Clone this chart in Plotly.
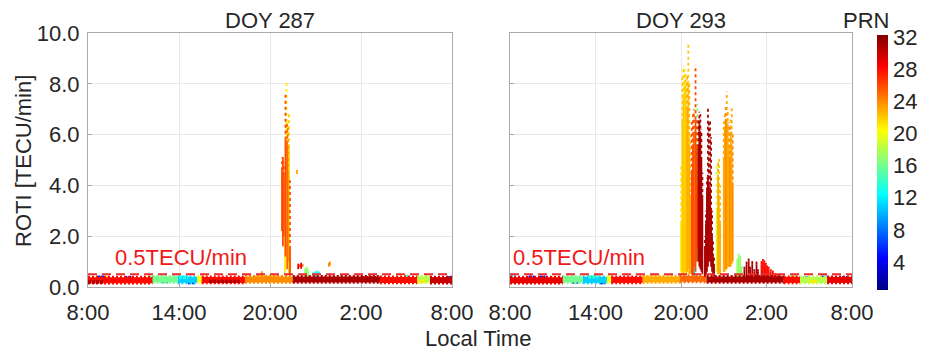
import plotly.graph_objects as go
from plotly.colors import sample_colorscale

W, H = 935, 354
FONT = "Liberation Sans, Arial, Helvetica, sans-serif"
TXT = "rgb(38,38,38)"

# ---------------------------------------------------------------- data
# x: local time in hours counted from 8:00 (8 .. 32 spans one day)
x_tickvals = [8, 14, 20, 26, 32]
x_ticktext = ["8:00", "14:00", "20:00", "2:00", "8:00"]
y_tickvals = [0, 2, 4, 6, 8, 10]
y_ticktext = ["0.0", "2.0", "4.0", "6.0", "8.0", "10.0"]
prn_ticks = [4, 8, 12, 16, 20, 24, 28, 32]
threshold = 0.5
panel_titles = ["DOY 287", "DOY 293"]

# quiet-time ROTI band of every satellite pass: start, end, PRN, typical ROTI
band287_start = [8.0, 12.0, 13.9, 15.2, 15.5, 18.35, 21.5, 27.25, 29.7, 30.55]
band287_end   = [12.25, 13.9, 15.2, 15.5, 18.35, 21.5, 27.25, 29.7, 30.55, 32.0]
band287_prn   = [28, 16, 11, 20, 28, 24, 31, 28, 18, 30]
band287_roti  = [0.27, 0.30, 0.28, 0.30, 0.28, 0.30, 0.30, 0.28, 0.30, 0.27]

# shorter low-level fragments from other satellites
frag287_start = [8.0, 8.6, 9.1, 10.4, 12.8, 14.0, 14.6, 16.0, 19.0, 22.9, 26.0, 28.3, 28.9, 29.5, 31.7]
frag287_end   = [9.0, 9.1, 9.45, 10.9, 13.3, 14.6, 15.1, 18.0, 20.5, 23.2, 27.0, 29.2, 29.1, 30.3, 32.0]
frag287_prn   = [31, 6, 21, 5, 7, 13, 4, 31, 22, 13, 28, 19, 12, 21, 7]
frag287_roti  = [0.20, 0.38, 0.36, 0.36, 0.22, 0.38, 0.18, 0.22, 0.38, 0.42, 0.36, 0.36, 0.40, 0.22, 0.36]

# irregularity spikes: time, PRN, ROTI floor, top of dense part, highest value
spike287_hour = [20.79, 20.85, 20.92, 20.99, 21.02, 21.09, 21.13, 21.18, 21.25, 21.32,
                 19.47, 21.78, 21.86, 21.95, 22.05, 22.15, 22.32, 22.42, 22.52,
                 22.85, 22.98, 23.12, 23.25, 23.88, 23.95]
spike287_prn  = [26, 26, 25, 21, 26, 21, 25, 24, 22, 26,
                 24, 23, 29, 25, 29, 25, 17, 17, 17,
                 13, 13, 13, 13, 24, 24]
spike287_low  = [2.2, 1.6, 2.0, 0.5, 1.2, 4.0, 0.7, 1.0, 0.5, 0.5,
                 0.50, 4.45, 0.70, 0.78, 0.72, 0.80, 0.40, 0.45, 0.40,
                 0.45, 0.50, 0.48, 0.52, 0.80, 0.85]
spike287_core = [4.6, 5.0, 4.4, 2.1, 5.8, 6.5, 5.6, 4.5, 5.5, 1.5,
                 0.62, 4.62, 0.92, 0.88, 0.95, 0.90, 0.75, 0.80, 0.70,
                 0.58, 0.62, 0.65, 0.60, 0.95, 1.00]
spike287_peak = [5.1, 5.2, 4.9, 2.1, 7.6, 8.05, 6.5, 6.3, 6.9, 4.2,
                 0.62, 4.62, 0.92, 0.88, 0.95, 0.90, 0.75, 0.80, 0.70,
                 0.58, 0.62, 0.65, 0.60, 0.95, 1.00]

band293_start = [8.0, 11.7, 13.1, 14.8, 15.1, 17.3, 19.9, 21.8, 27.2, 28.35, 30.25]
band293_end   = [11.7, 13.1, 14.8, 15.1, 17.3, 19.9, 21.8, 27.2, 28.35, 30.25, 32.0]
band293_prn   = [29, 16, 11, 20, 28, 23, 25, 31, 28, 18, 29]
band293_roti  = [0.27, 0.30, 0.28, 0.30, 0.28, 0.30, 0.32, 0.30, 0.28, 0.28, 0.28]

frag293_start = [8.0, 9.3, 10.1, 10.8, 12.3, 13.5, 14.3, 17.3, 25.6, 27.6, 28.6, 29.0, 29.8, 31.3]
frag293_end   = [8.4, 9.7, 10.5, 11.2, 12.8, 14.2, 14.7, 18.5, 27.2, 28.2, 29.0, 29.6, 30.2, 31.7]
frag293_prn   = [12, 5, 6, 21, 6, 14, 4, 21, 28, 17, 6, 21, 6, 7]
frag293_roti  = [0.40, 0.38, 0.38, 0.35, 0.20, 0.40, 0.18, 0.38, 0.35, 0.38, 0.36, 0.22, 0.38, 0.36]

spike293_hour = [20.00, 20.10, 20.17, 20.24, 20.31, 20.38, 20.44, 20.51, 20.58, 20.65,
                 20.76, 20.84, 20.91, 21.02, 21.09, 21.16,
                 21.15, 21.22,
                 21.22, 21.29, 21.36, 21.43, 21.50,
                 21.68, 21.75, 21.82, 21.89, 21.96, 22.04, 22.11, 22.18, 22.25, 22.32,
                 20.93, 21.70,
                 22.50, 22.60, 22.67, 22.74,
                 23.00, 23.07, 23.14, 23.21, 23.28, 23.35, 23.42, 23.49, 23.56, 23.63,
                 23.95, 24.05, 24.15, 24.25,
                 24.45, 24.60, 24.75, 24.85, 25.00, 25.15, 25.30, 25.40,
                 25.65, 25.75, 25.85, 25.95, 26.05, 26.15, 26.30, 26.45, 26.60, 26.80]
spike293_prn  = [21, 22, 22, 21, 22, 22, 23, 22, 23, 22,
                 26, 26, 25, 26, 26, 25,
                 17, 17,
                 31, 31, 31, 31, 31,
                 31, 31, 31, 31, 31, 31, 31, 31, 31, 31,
                 12, 12,
                 19, 23, 22, 23,
                 23, 23, 24, 23, 23, 23, 24, 23, 23, 24,
                 17, 17, 17, 17,
                 31, 31, 31, 31, 31, 31, 31, 31,
                 28, 28, 28, 28, 28, 28, 28, 28, 28, 28]
spike293_low  = [0.6, 0.5, 0.5, 0.5, 0.6, 0.5, 0.6, 0.7, 0.5, 0.5,
                 0.5, 0.5, 0.8, 0.6, 1.0, 1.5,
                 1.0, 1.2,
                 1.0, 0.8, 0.7, 0.6, 0.5,
                 0.4, 0.5, 0.6, 0.8, 1.0, 1.0, 0.8, 0.6, 0.5, 0.4,
                 0.4, 0.5,
                 0.6, 0.5, 0.5, 0.5,
                 0.6, 0.6, 0.7, 0.7, 0.8, 0.8, 0.8, 0.8, 0.9, 1.0,
                 0.4, 0.4, 0.4, 0.4,
                 0.3, 0.3, 0.3, 0.3, 0.3, 0.3, 0.3, 0.3,
                 0.3, 0.3, 0.3, 0.3, 0.3, 0.3, 0.3, 0.3, 0.3, 0.3]
spike293_core = [2.5, 6.5, 7.5, 8.0, 7.8, 6.0, 7.0, 8.0, 5.5, 3.5,
                 4.5, 5.5, 6.0, 6.6, 5.5, 4.0,
                 5.5, 4.5,
                 5.5, 6.4, 6.0, 5.0, 3.5,
                 1.5, 2.5, 3.8, 4.3, 4.0, 3.8, 3.0, 2.0, 1.2, 0.8,
                 0.8, 1.0,
                 3.0, 4.3, 3.5, 2.5,
                 5.0, 6.2, 6.5, 6.5, 6.3, 5.5, 5.0, 6.0, 5.5, 4.0,
                 1.0, 1.2, 1.1, 0.7,
                 0.7, 0.9, 1.0, 0.7, 0.9, 0.6, 0.9, 0.6,
                 0.9, 1.0, 0.95, 0.85, 0.75, 0.7, 0.6, 0.55, 0.5, 0.45]
spike293_peak = [4.8, 8.3, 8.7, 8.6, 8.5, 8.2, 8.4, 9.66, 8.0, 6.0,
                 6.5, 6.8, 7.0, 8.74, 6.6, 5.5,
                 7.2, 6.6,
                 6.6, 6.9, 6.8, 6.2, 4.5,
                 2.0, 3.0, 4.3, 7.1, 6.5, 6.6, 5.9, 3.0, 1.8, 1.2,
                 1.0, 1.3,
                 4.9, 5.0, 5.1, 4.0,
                 6.5, 6.8, 7.2, 7.7, 6.9, 6.5, 6.3, 6.6, 7.1, 6.0,
                 1.2, 1.39, 1.3, 0.9,
                 0.8, 1.0, 1.2, 0.8, 1.1, 0.7, 1.0, 0.7,
                 1.06, 1.1, 1.05, 0.95, 0.85, 0.8, 0.7, 0.65, 0.55, 0.5]

# ---------------------------------------------------------------- colours
JET = [[0.0, "rgb(0,0,128)"], [0.125, "rgb(0,0,255)"], [0.375, "rgb(0,255,255)"],
       [0.625, "rgb(255,255,0)"], [0.875, "rgb(255,0,0)"], [1.0, "rgb(128,0,0)"]]
PRN_MIN, PRN_MAX = 0.5, 32.3


def prn_color(p):
    t = (p - PRN_MIN) / (PRN_MAX - PRN_MIN)
    return sample_colorscale(JET, [min(max(t, 0.0), 1.0)])[0]


# ---------------------------------------------------------------- figure
fig = go.Figure()


def seg_trace(xs, ys, xa, ya, col, width, dash="solid"):
    fig.add_trace(go.Scatter(x=xs, y=ys, mode="lines", xaxis=xa, yaxis=ya,
                             line=dict(color=col, width=width, dash=dash),
                             hoverinfo="skip", showlegend=False))


def add_panel(xa, ya, bands, frags, spikes):
    prns = sorted(set(bands[2]) | set(frags[2]) | set(spikes[1]))
    for p in prns:
        col = prn_color(p)
        # pass bands: solid core with grainy upper/lower edges
        bx, by, ex, ey = [], [], [], []
        for s, e, q, r in zip(*bands):
            if q == p:
                bx += [s, e, None]
                by += [r, r, None]
                ex += [s, e, None, s, e, None]
                ey += [r + 0.12, r + 0.12, None, r - 0.12, r - 0.12, None]
        if bx:
            seg_trace(bx, by, xa, ya, col, 6)
            seg_trace(ex, ey, xa, ya, col, 2.5, "2px,2px")
        fx, fy = [], []
        for s, e, q, r in zip(*frags):
            if q == p:
                fx += [s, e, None]
                fy += [r, r, None]
        if fx:
            seg_trace(fx, fy, xa, ya, col, 3.5, "3px,1px")
        # spikes: dense core + scattered upper part
        cx, cy, dx, dy = [], [], [], []
        for h, q, lo, core, peak in zip(*spikes):
            if q != p:
                continue
            cx += [h, h, None]
            cy += [lo, core, None]
            if peak > core:
                dx += [h, h, None]
                dy += [core, peak, None]
        if cx:
            seg_trace(cx, cy, xa, ya, col, 1.8)
        if dx:
            seg_trace(dx, dy, xa, ya, col, 1.8, "dot")
    # 0.5 TECU/min threshold
    seg_trace([8, 32], [threshold, threshold], xa, ya, "rgb(235,45,45)", 2, "9px,5px")


add_panel("x", "y",
          (band287_start, band287_end, band287_prn, band287_roti),
          (frag287_start, frag287_end, frag287_prn, frag287_roti),
          (spike287_hour, spike287_prn, spike287_low, spike287_core, spike287_peak))
add_panel("x2", "y2",
          (band293_start, band293_end, band293_prn, band293_roti),
          (frag293_start, frag293_end, frag293_prn, frag293_roti),
          (spike293_hour, spike293_prn, spike293_low, spike293_core, spike293_peak))

# colour bar carrier (points sit below the visible range)
fig.add_trace(go.Scatter(
    x=[8, 8], y=[-5, -5], mode="markers", xaxis="x2", yaxis="y2",
    hoverinfo="skip", showlegend=False,
    marker=dict(color=[PRN_MIN, PRN_MAX], colorscale=JET, cmin=PRN_MIN, cmax=PRN_MAX,
                size=1, showscale=True,
                colorbar=dict(x=877 / W, xanchor="left", y=(H - 290) / H, yanchor="bottom",
                              len=255 / H, lenmode="fraction", thickness=11,
                              thicknessmode="pixels", xpad=0, ypad=0,
                              outlinewidth=0, tickvals=prn_ticks, ticks="",
                              tickfont=dict(family=FONT, size=22, color=TXT)))))

axis_common = dict(showline=True, mirror=True, linecolor="rgb(170,170,170)", linewidth=1,
                   showgrid=True, gridcolor="rgb(232,232,232)", gridwidth=1,
                   zeroline=False, ticks="inside", ticklen=4, tickcolor="rgb(170,170,170)",
                   tickfont=dict(family=FONT, size=22, color=TXT), fixedrange=True,
                   automargin=False)
ydom = [(H - 287) / H, (H - 33) / H]

fig.update_layout(
    width=W, height=H, margin=dict(l=0, r=0, t=0, b=0, autoexpand=False),
    paper_bgcolor="white", plot_bgcolor="white",
    xaxis=dict(domain=[88 / W, 452 / W], range=[8, 32], anchor="y",
               tickvals=x_tickvals, ticktext=x_ticktext, ticklabelstandoff=6, **axis_common),
    yaxis=dict(domain=ydom, range=[0, 10], anchor="x",
               tickvals=y_tickvals, ticktext=y_ticktext, ticklabelstandoff=3, **axis_common),
    xaxis2=dict(domain=[510 / W, 852 / W], range=[8, 32], anchor="y2",
                tickvals=x_tickvals, ticktext=x_ticktext, ticklabelstandoff=6, **axis_common),
    yaxis2=dict(domain=ydom, range=[0, 10], anchor="x2",
                tickvals=y_tickvals, showticklabels=False, **axis_common),
)

ann_font = dict(family=FONT, size=22, color=TXT)
red_font = dict(family=FONT, size=22, color="rgb(240,25,25)")
fig.add_annotation(text=panel_titles[0], x=270 / W, y=(H - 20) / H, xref="paper", yref="paper",
                   showarrow=False, font=ann_font, xanchor="center", yanchor="middle")
fig.add_annotation(text=panel_titles[1], x=681 / W, y=(H - 20) / H, xref="paper", yref="paper",
                   showarrow=False, font=ann_font, xanchor="center", yanchor="middle")
fig.add_annotation(text="PRN", x=866 / W, y=(H - 21) / H, xref="paper", yref="paper",
                   showarrow=False, font=ann_font, xanchor="center", yanchor="middle")
fig.add_annotation(text="Local Time", x=478 / W, y=(H - 338) / H, xref="paper", yref="paper",
                   showarrow=False, font=ann_font, xanchor="center", yanchor="middle")
fig.add_annotation(text="ROTI [TECU/min]", x=23 / W, y=(H - 161) / H, xref="paper",
                   yref="paper", showarrow=False, font=ann_font, textangle=-90,
                   xanchor="center", yanchor="middle")
fig.add_annotation(text="0.5TECU/min", x=9.65, y=1.18, xref="x", yref="y", showarrow=False,
                   font=red_font, xanchor="left", yanchor="middle")
fig.add_annotation(text="0.5TECU/min", x=8.07, y=1.18, xref="x2", yref="y2", showarrow=False,
                   font=red_font, xanchor="left", yanchor="middle")

fig.write_html("out.html")
